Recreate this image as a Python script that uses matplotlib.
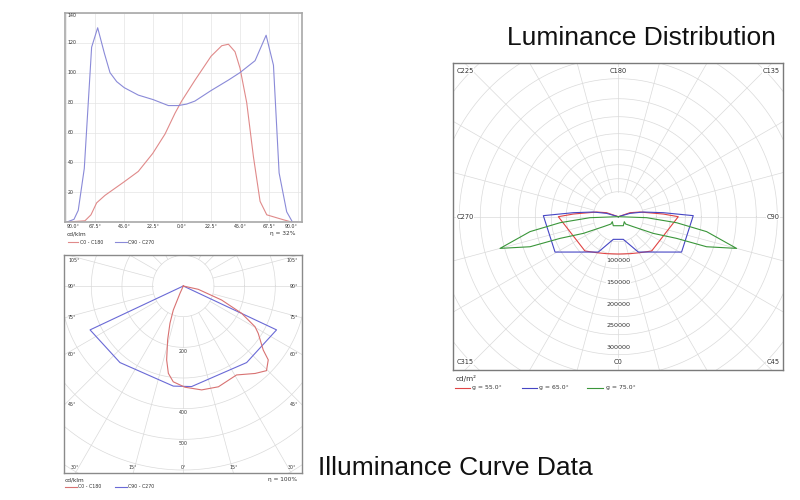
import numpy as np
import matplotlib.pyplot as plt
from matplotlib.lines import Line2D

plt.rcParams["font.family"] = ["DejaVu Sans"]

W, H = 800, 500

# ---------------- top-left: intensity curve (cd/klm) ----------------
tick_angles = [-90, -67.5, -45, -22.5, 0, 22.5, 45, 67.5, 90]
tick_labels = ["90.0°", "67.5°", "45.0°", "22.5°", "0.0°", "22.5°", "45.0°", "67.5°", "90.0°"]
y_ticks = [20, 40, 60, 80, 100, 120, 140]

c0_ang = [-90, -84, -75.5, -70.8, -66.4, -59.9, -45.1, -34, -22.8, -13.2, -5.4, -0.3, 10.1,
          22.6, 30.9, 36.1, 41.2, 45.1, 50.3, 55.5, 60.7, 65.9, 77.6, 85.9, 90]
c0_val = [0, 0.5, 1, 5, 13, 18, 27, 34, 46, 59, 73, 81, 95,
          111, 118, 119, 114, 103, 80, 44, 14, 5, 2, 0, 0]
c90_ang = [-90, -84, -80.7, -76, -70.3, -65.6, -60.4, -56, -50.8, -45, -34, -22.5, -10.6,
           -3, 3.6, 10, 22.5, 36, 45, 56.8, 65.4, 71.1, 75.5, 81.4, 86, 90]
c90_val = [0, 2, 8, 36, 117, 130, 113, 100, 94, 90, 85, 82, 78,
           78, 79, 81, 88, 95, 100, 108, 125, 105, 33, 7, 0, 0]

# ---------------- bottom-left: polar intensity (cd/klm) ----------------
pol_c0_ang = [-25, -24.4, -22.6, -19.7, -16.2, -12.7, -9.7, -6.0, 0.9, 10.0, 19.2, 30.9,
              39.4, 44.5, 49.0, 51.3, 57.7, 60.4, 64.9, 69.9, 77.5, 90]
pol_c0_val = [0, 26, 85, 129, 183, 247, 289, 314, 330, 344, 348, 338,
              369, 387, 367, 334, 289, 269, 210, 133, 50, 0]
pol_c90_ang = [-90, -64.8, -39.6, -5.7, 4.7, 39.6, 64.8, 90]
pol_c90_val = [0, 336, 324, 328, 329, 324, 336, 0]
pol_ring_labels = [200, 400, 500]
pol_angle_labels = [105, 90, 75, 60, 45, 30, 15, 0]

# ---------------- right: luminance (cd/m2) ----------------
g55_c = [180, 251.1, 257.8, 266.6, 270, 315.8, 329, 342.5, 0, 17.5, 31, 44.2, 90, 93.4, 102.2, 108.9, 180]
g55_l = [0, 28500, 51100, 104000, 138400, 110400, 96900, 89500, 86100, 89500, 96900, 110400,
         138400, 104000, 51100, 28500, 0]
g65_c = [180, 254.1, 259.4, 264.9, 269.2, 299.2, 330.5, 347.6, 12.4, 29.5, 60.8, 90.8, 95.1, 100.6, 105.9, 180]
g65_l = [0, 28000, 58700, 104200, 173000, 167300, 93700, 53500, 53500, 93700, 167300, 173000,
         104200, 58700, 28000, 0]
g75_c = [180, 272.0, 275.9, 279.6, 285.0, 288.8, 290.4, 295.5, 303.7, 315.0, 309.8, 330.9, 0,
         29.1, 50.2, 45.0, 56.3, 64.5, 69.6, 71.2, 75.0, 80.4, 84.1, 88.0, 180]
g75_l = [0, 65400, 135300, 206700, 282600, 215200, 143600, 89400, 41600, 23900, 18000, 23800, 20800,
         23800, 18000, 23900, 41600, 89400, 143600, 215200, 282600, 206700, 135300, 65400, 0]
c_planes = [0, 45, 90, 135, 180, 225, 270, 315]
lum_ring_labels = [100000, 150000, 200000, 250000, 300000]

GRID = "#dadada"
TXT = "#333333"


def box(x0, y0, x1, y1):
    return [x0 / W, 1 - y1 / H, (x1 - x0) / W, (y1 - y0) / H]


def ftext(x, y, s, **kw):
    fig.text(x / W, 1 - y / H, s, **kw)


def fline(x0, x1, y, color):
    fig.add_artist(Line2D([x0 / W, x1 / W], [1 - y / H, 1 - y / H],
                          transform=fig.transFigure, color=color, lw=0.8))


def polar_grid(ax, rings, r_in, r_out):
    t = np.linspace(0, 2 * np.pi, 361)
    for r in rings:
        ax.plot(r * np.cos(t), r * np.sin(t), color=GRID, lw=0.5, zorder=0)
    for a in np.radians(np.arange(0, 360, 15)):
        ax.plot([r_in * np.sin(a), r_out * np.sin(a)], [-r_in * np.cos(a), -r_out * np.cos(a)],
                color=GRID, lw=0.5, zorder=0)


def edge_point(a_deg, xl, xr, yb, yt):
    # where a ray (0 = down, positive = right) meets the frame, and which edge
    a = np.radians(a_deg)
    dx, dy = np.sin(a), -np.cos(a)
    ts = []
    if dx > 1e-9:
        ts.append((xr / dx, "right"))
    if dx < -1e-9:
        ts.append((xl / dx, "left"))
    if dy > 1e-9:
        ts.append((yt / dy, "top"))
    if dy < -1e-9:
        ts.append((yb / dy, "bottom"))
    t, edge = min(ts)
    return t * dx, t * dy, edge


fig = plt.figure(figsize=(8, 5), dpi=100)
fig.patch.set_facecolor("white")

# ======== top-left ========
ax1 = fig.add_axes(box(65, 12.8, 302, 222.3))
ax1.plot(c0_ang, c0_val, color="#e08a8a", lw=0.8)
ax1.plot(c90_ang, c90_val, color="#8a8ad8", lw=0.8)
ax1.set_xlim(-91, 93.3)
ax1.set_ylim(0, 140)
ax1.set_xticks(tick_angles)
ax1.set_xticklabels(tick_labels, fontsize=3.4, color=TXT)
xl = ax1.get_xticklabels()
xl[0].set_ha("left")
xl[-1].set_ha("right")
ax1.set_yticks(y_ticks)
ax1.set_yticklabels([])
ax1.tick_params(length=0, pad=1.2)
ax1.grid(True, color="#e4e4e4", lw=0.5)
for v in y_ticks:
    ax1.text(-88.8, v, str(v), fontsize=3.4, color=TXT, ha="left",
             va="top" if v == 140 else "center")
for s in ax1.spines.values():
    s.set_color("#a8a8a8")
    s.set_linewidth(1.2)

ftext(67, 233.5, "cd/klm", fontsize=4.2, color=TXT, va="center")
ftext(296, 233.5, "η = 32%", fontsize=4.2, color=TXT, va="center", ha="right")
fline(67.7, 78.3, 242.3, "#e08a8a")
ftext(80, 242.3, "C0 - C180", fontsize=3.4, color=TXT, va="center")
fline(115, 126.7, 242.3, "#8a8ad8")
ftext(128.5, 242.3, "C90 - C270", fontsize=3.4, color=TXT, va="center")

# ======== bottom-left (polar intensity) ========
s2 = 0.3067  # px per cd/klm
cx2, cy2 = 183.3, 286
fx0, fy0, fx1, fy1 = 64.3, 255, 301.7, 473.3
ax2 = fig.add_axes(box(fx0, fy0, fx1, fy1))
x_l, x_r = (fx0 - cx2) / s2, (fx1 - cx2) / s2
y_b, y_t = -(fy1 - cy2) / s2, (cy2 - fy0) / s2
ax2.set_xlim(x_l, x_r)
ax2.set_ylim(y_b, y_t)
polar_grid(ax2, np.arange(100, 1000, 100), 100, 1200)
a = np.radians(pol_c90_ang)
ax2.plot(np.array(pol_c90_val) * np.sin(a), -np.array(pol_c90_val) * np.cos(a), color="#6a6ad6", lw=0.8)
a = np.radians(pol_c0_ang)
ax2.plot(np.array(pol_c0_val) * np.sin(a), -np.array(pol_c0_val) * np.cos(a), color="#d87272", lw=0.8)
for v in pol_ring_labels:
    ax2.text(0, -v - 12, str(v), fontsize=3.4, color=TXT, ha="center", va="center",
             bbox=dict(facecolor="white", edgecolor="none", pad=0.3))
pad = 12
for ang in pol_angle_labels:
    for sgn in ([-1, 1] if ang else [1]):
        ex, ey, edge = edge_point(sgn * ang, x_l, x_r, y_b, y_t)
        if edge == "bottom":
            ex = np.clip(ex, x_l + 30, x_r - 30)
            ax2.text(ex, y_b + pad, f"{ang}°", fontsize=3.4, color=TXT, ha="center", va="bottom")
        else:
            ey = np.clip(ey, y_b + 20, y_t - 18)
            ax2.text(x_l + pad if sgn < 0 else x_r - pad, ey, f"{ang}°", fontsize=3.4, color=TXT,
                     ha="left" if sgn < 0 else "right", va="center")
ax2.set_xticks([])
ax2.set_yticks([])
for s in ax2.spines.values():
    s.set_color("#8a8a8a")
    s.set_linewidth(1.0)

ftext(65, 480, "cd/klm", fontsize=4.2, color=TXT, va="center")
ftext(296.7, 480, "η = 100%", fontsize=4.2, color=TXT, va="center", ha="right")
fline(65, 76.7, 486.7, "#d87272")
ftext(78, 486.7, "C0 - C180", fontsize=3.4, color=TXT, va="center")
fline(115, 126.7, 486.7, "#6a6ad6")
ftext(128.5, 486.7, "C90 - C270", fontsize=3.4, color=TXT, va="center")

# ======== right (luminance) ========
s3 = 1 / 2308  # px per cd/m2
cx3, cy3 = 618.3, 216.7
gx0, gy0, gx1, gy1 = 452.7, 62.7, 783.3, 370
ax3 = fig.add_axes(box(gx0, gy0, gx1, gy1))
X_l, X_r = (gx0 - cx3) / s3, (gx1 - cx3) / s3
Y_b, Y_t = -(gy1 - cy3) / s3, (cy3 - gy0) / s3
ax3.set_xlim(X_l, X_r)
ax3.set_ylim(Y_b, Y_t)
# ring spacing of this chart widens outward
ring_px = np.array([25, 38, 52, 67, 83, 100, 118, 138, 159, 182, 207, 234, 263])
polar_grid(ax3, ring_px / s3, ring_px[0] / s3, 800000)
for cs, ls, col in [(g55_c, g55_l, "#e04444"), (g65_c, g65_l, "#4646c4"), (g75_c, g75_l, "#3a963a")]:
    a = np.radians(cs)
    ax3.plot(np.array(ls) * np.sin(a), -np.array(ls) * np.cos(a), color=col, lw=0.8)
for v in lum_ring_labels:
    ax3.text(0, -v - 1500, str(v), fontsize=4.6, color=TXT, ha="center", va="center",
             bbox=dict(facecolor="white", edgecolor="none", pad=0.3))
for c in c_planes:
    ex, ey, edge = edge_point(c, X_l, X_r, Y_b, Y_t)
    ha = "left" if ex < X_l * 0.5 else ("right" if ex > X_r * 0.5 else "center")
    va = "bottom" if ey < Y_b * 0.5 else ("top" if ey > Y_t * 0.5 else "center")
    tx = X_l + 9000 if ha == "left" else (X_r - 9000 if ha == "right" else ex)
    ty = Y_b + 12000 if va == "bottom" else (Y_t - 12000 if va == "top" else ey)
    ax3.text(tx, ty, f"C{c}", fontsize=4.8, color=TXT, ha=ha, va=va,
             bbox=dict(facecolor="white", edgecolor="none", pad=0.3))
ax3.set_xticks([])
ax3.set_yticks([])
for s in ax3.spines.values():
    s.set_color("#7a7a7a")
    s.set_linewidth(1.0)

ftext(456, 379, "cd/m²", fontsize=5.2, color=TXT, va="center")
fline(455, 470, 388, "#e04444")
ftext(472, 388, "g = 55.0°", fontsize=4.4, color=TXT, va="center")
fline(522, 537, 388, "#4646c4")
ftext(539, 388, "g = 65.0°", fontsize=4.4, color=TXT, va="center")
fline(587, 603, 388, "#3a963a")
ftext(606, 388, "g = 75.0°", fontsize=4.4, color=TXT, va="center")

# titles
ftext(507, 45, "Luminance Distribution", fontsize=19, color="#111111",
      family="Liberation Sans", va="baseline")
ftext(318, 475, "Illuminance Curve Data", fontsize=19, color="#111111",
      family="Liberation Sans", va="baseline")

fig.savefig("out.png", dpi=100, facecolor="white")
